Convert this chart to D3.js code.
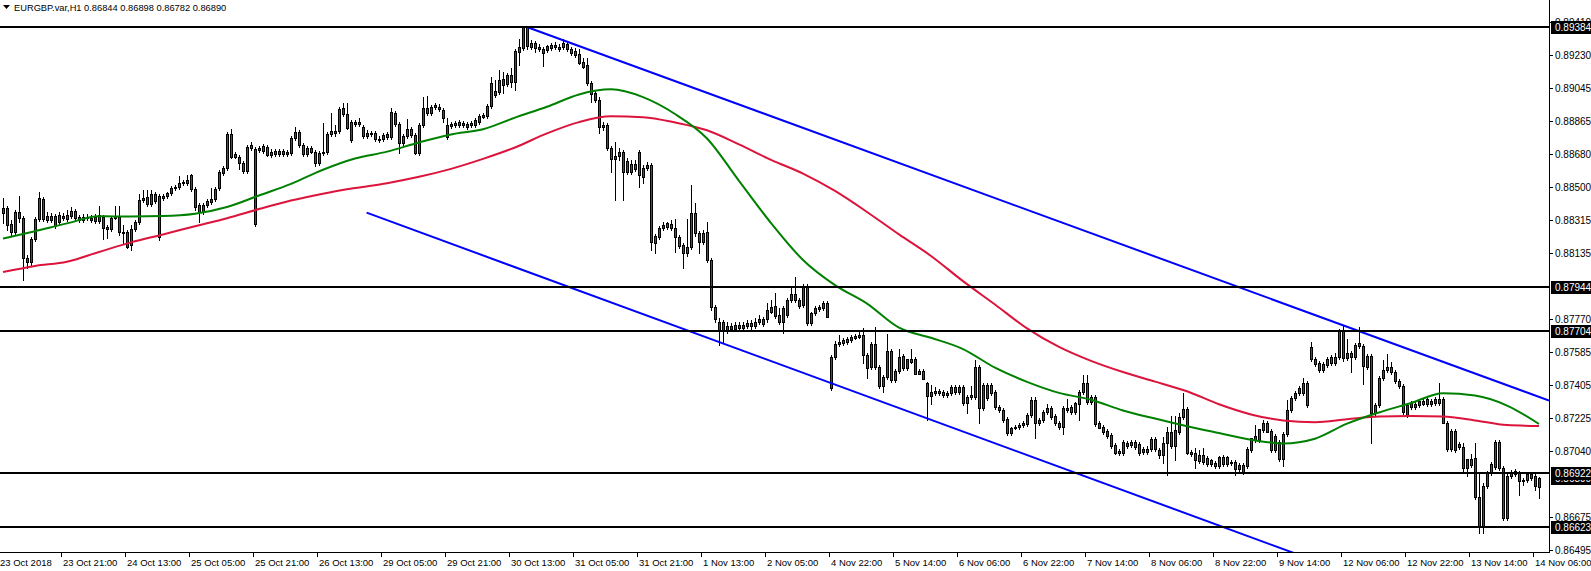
<!DOCTYPE html>
<html><head><meta charset="utf-8">
<script src="https://cdn.jsdelivr.net/npm/d3@7"></script>
<style>html,body{margin:0;padding:0;background:#fff;overflow:hidden}text{font-family:"Liberation Sans",Arial,sans-serif}</style>
</head><body><svg id="c" width="1591" height="571"></svg>
<script>
// prices in points (1 point = 0.00001)
const POINT = 0.00001;
const open = [
88355,88382,88294,88250,88360,88327,88106,88084,88211,88322,88432,88338,88316,88338,88305,88338,88322,88338,88366,88333,
88316,88333,88327,88333,88311,88333,88278,88266,88338,88333,88250,88250,88178,88266,88305,88427,88443,88404,88460,88222,
88438,88449,88465,88493,88499,88521,88537,88565,88488,88399,88360,88399,88415,88432,88493,88576,88604,88791,88681,88664,
88631,88587,88714,88294,88703,88697,88719,88675,88697,88681,88697,88681,88686,88769,88802,88730,88681,88714,88692,88631,
88686,88692,88791,88808,88808,88902,88902,88857,88846,88857,88830,88780,88791,88797,88764,88764,88775,
88775,88907,88846,88742,88780,88819,88786,88686,88841,88935,88907,88940,88940,88924,88775,88835,88841,88857,88841,88846,
88841,88841,88857,88885,88891,88946,89006,89023,89062,89067,89117,89078,89244,89266,89382,89271,89294,89271,89260,89255,
89266,89283,89260,89271,89288,89260,89249,89233,89189,89172,89073,89017,88979,88830,88841,88714,88653,88670,88692,88642,
88581,88626,88692,88554,88604,88620,88189,88222,88272,88278,88294,88272,88222,88178,88134,88167,88355,88244,88195,88250,
88095,87836,
87709,87753,87709,87731,87714,87736,87720,87731,87747,87731,87753,87742,87770,87808,87841,87792,87753,87792,87874,87908,
87874,87847,87952,87747,87803,87825,87830,87858,87389,87560,87631,87637,87643,87654,87665,87670,87681,87571,87504,87631,
87504,87400,87449,87593,87433,87482,87565,87499,87549,87549,87482,87482,87416,87344,87361,87372,87366,87350,87361,87366,
87394,87394,87306,87350,87339,87504,87278,87333,87405,87366,87284,87267,87217,87140,87168,87184,87184,87190,87239,87322,
87212,87212,87256,87278,87234,87195,87173,87267,87284,87256,87300,87366,87416,87339,87339,87195,87173,87151,87129,87074,
87030,87030,87068,87090,87090,87079,87035,87052,
87052,87107,87046,87019,87085,87068,87157,87146,87228,87273,87035,87030,87019,87019,87002,86969,86958,86958,87008,87008,
86980,86980,86963,86925,86958,87046,87101,87101,87157,87195,87151,87124,87090,86997,87135,87267,87333,87361,87361,87416,
87615,87549,87526,87488,87515,87526,87526,87560,87703,87554,87560,87560,87637,87620,87565,87565,87250,87295,87444,87488,
87504,87477,87427,87400,87239,87284,87300,87295,87317,87300,87300,87306,87328,87328,87195,87052,87151,87079,87063,86947,
86963,87002,86787,86627,86847,86919,86952,87090,86947,86671,86903,86914,86919,86875,86880,86914,86903,86844];
const high = [
88438,88393,88316,88371,88449,88338,88123,88222,88333,88471,88443,88360,88355,88349,88360,88355,88371,88388,88377,88344,
88349,88349,88344,88349,88393,88344,88289,88338,88393,88393,88289,88261,88289,88316,88460,88482,88482,88482,88471,88460,
88460,88471,88504,88510,88559,88537,88565,88570,88499,88410,88410,88432,88493,88499,88592,88615,88802,88819,88692,88675,
88642,88730,88747,88719,88725,88736,88730,88708,88708,88708,88708,88703,88780,88830,88813,88742,88725,88725,88703,88697,
88852,88802,88907,88841,88940,88962,88962,88868,88868,88880,88841,88813,88808,88808,88780,88797,88802,
88935,88918,88857,88791,88874,88830,88797,88852,88995,89001,88951,88962,88957,88935,88880,88857,88863,88868,88863,88857,
88863,88880,88902,88907,88957,89106,89089,89145,89133,89128,89156,89260,89316,89384,89384,89310,89305,89288,89271,89283,
89294,89299,89288,89316,89305,89271,89266,89260,89211,89211,89084,89034,88995,88857,88852,88725,88747,88714,88703,88659,
88648,88648,88703,88620,88637,88631,88239,88283,88305,88305,88316,88322,88233,88189,88322,88510,88410,88255,88261,88305,
88106,87847,
87775,87764,87753,87747,87753,87753,87753,87764,87764,87775,87792,87781,87858,87874,87913,87830,87841,87885,87952,88001,
87885,87963,87963,87808,87841,87847,87869,87869,87571,87648,87681,87665,87670,87681,87687,87703,87720,87582,87643,87725,
87515,87460,87687,87604,87493,87604,87576,87549,87604,87560,87493,87493,87422,87405,87394,87383,87378,87372,87405,87405,
87405,87405,87350,87400,87543,87515,87416,87416,87416,87378,87295,87278,87228,87173,87184,87195,87206,87250,87339,87339,
87223,87267,87300,87289,87245,87206,87289,87328,87295,87311,87378,87460,87460,87350,87350,87206,87184,87162,87140,87085,
87052,87101,87096,87101,87101,87090,87063,87068,
87118,87118,87057,87118,87173,87234,87234,87250,87361,87284,87046,87057,87046,87057,87013,86997,86986,87013,87019,87013,
86991,86991,86974,86974,87063,87112,87184,87162,87212,87206,87162,87135,87101,87146,87322,87344,87372,87400,87444,87427,
87643,87560,87538,87532,87560,87571,87582,87714,87731,87659,87593,87637,87725,87631,87576,87576,87306,87455,87543,87576,
87532,87488,87438,87411,87306,87317,87311,87317,87328,87339,87328,87339,87416,87339,87206,87162,87162,87090,87085,86997,
87024,87085,86919,86864,86930,86980,87101,87101,86958,86914,86936,86941,86930,86892,86914,86925,86914,86898];
const low = [
88300,88261,88228,88239,88305,87985,88051,88068,88200,88311,88311,88305,88305,88272,88294,88316,88311,88327,88316,88305,
88305,88316,88305,88300,88300,88211,88217,88255,88322,88233,88184,88162,88151,88255,88294,88415,88393,88393,88410,88206,
88427,88438,88454,88482,88488,88510,88510,88476,88371,88305,88349,88388,88404,88421,88482,88565,88592,88659,88659,88598,
88576,88576,88703,88283,88692,88686,88670,88664,88670,88670,88670,88670,88675,88758,88719,88670,88670,88686,88615,88620,
88675,88681,88780,88780,88797,88891,88819,88747,88835,88835,88769,88769,88780,88753,88747,88753,88764,
88764,88835,88686,88730,88769,88775,88681,88675,88830,88896,88896,88929,88918,88857,88764,88824,88830,88830,88830,88819,
88830,88830,88846,88880,88880,88935,88995,89012,89017,89056,89051,89034,89172,89255,89260,89260,89244,89249,89167,89244,
89255,89260,89249,89260,89249,89227,89216,89178,89156,89062,88968,88968,88797,88813,88703,88581,88427,88648,88427,88570,
88570,88587,88499,88521,88592,88151,88134,88211,88261,88266,88261,88140,88162,88051,88118,88156,88228,88134,88184,88084,
87819,87753,
87626,87643,87692,87703,87703,87709,87709,87720,87714,87720,87742,87731,87753,87803,87775,87742,87692,87781,87863,87863,
87830,87836,87736,87736,87792,87814,87819,87781,87378,87549,87620,87626,87631,87643,87659,87665,87526,87444,87493,87493,
87389,87366,87438,87422,87422,87471,87488,87488,87526,87466,87466,87438,87212,87300,87350,87350,87339,87339,87350,87355,
87355,87295,87250,87328,87328,87195,87267,87322,87350,87273,87256,87201,87129,87129,87162,87162,87173,87179,87228,87112,
87184,87201,87245,87217,87184,87162,87135,87256,87245,87245,87212,87355,87300,87300,87179,87168,87135,87112,87057,87024,
87019,87019,87057,87063,87052,87019,87024,87024,
87041,87041,87002,86974,86908,87057,86991,87135,87217,87024,87013,86947,86974,86969,86958,86958,86947,86947,86958,86958,
86963,86908,86930,86914,86947,87035,87090,87090,87146,87146,87035,87035,86986,86958,87124,87256,87322,87350,87350,87284,
87538,87510,87477,87477,87504,87515,87515,87549,87538,87543,87477,87549,87609,87411,87493,87085,87239,87284,87433,87477,
87466,87416,87389,87245,87228,87273,87273,87284,87295,87289,87289,87295,87295,87195,87041,87041,87035,87052,86919,86903,
86952,86776,86588,86588,86836,86908,86941,86936,86660,86660,86892,86903,86798,86853,86869,86880,86825,86782];
const close = [
88382,88289,88250,88360,88327,88106,88084,88211,88322,88438,88322,88316,88338,88283,88344,88327,88344,88366,88327,88316,
88333,88327,88316,88311,88344,88272,88266,88327,88327,88250,88244,88167,88266,88305,88427,88438,88404,88460,88421,88449,
88449,88465,88493,88499,88521,88526,88521,88488,88388,88360,88399,88421,88432,88488,88581,88604,88791,88664,88664,88631,
88587,88719,88730,88708,88714,88725,88675,88692,88681,88697,88681,88692,88769,88802,88730,88681,88714,88692,88631,88686,
88692,88791,88808,88797,88929,88935,88824,88758,88857,88846,88780,88797,88797,88764,88758,88786,88791,
88913,88846,88742,88780,88819,88786,88686,88841,88935,88907,88940,88951,88929,88880,88841,88846,88852,88841,88852,88830,
88852,88868,88891,88896,88946,89073,89029,89089,89095,89117,89078,89249,89271,89382,89277,89294,89266,89260,89238,89277,
89283,89271,89271,89294,89260,89238,89227,89183,89161,89073,89012,88979,88830,88841,88714,88653,88670,88692,88581,88581,
88626,88598,88565,88604,88620,88195,88228,88272,88289,88300,88272,88222,88173,88134,88167,88355,88244,88195,88244,88095,
87836,87770,
87753,87709,87731,87714,87736,87720,87736,87747,87731,87753,87770,87770,87819,87836,87786,87753,87830,87874,87908,87874,
87841,87952,87747,87803,87830,87836,87858,87781,87560,87631,87643,87654,87659,87670,87676,87681,87571,87499,87631,87504,
87400,87449,87593,87433,87482,87560,87499,87549,87532,87466,87466,87438,87344,87366,87372,87361,87350,87361,87394,87394,
87366,87306,87339,87339,87504,87278,87405,87405,87361,87284,87267,87212,87140,87168,87173,87173,87195,87239,87322,87195,
87195,87256,87278,87228,87195,87173,87278,87278,87256,87306,87366,87416,87311,87311,87190,87168,87146,87124,87068,87030,
87041,87090,87085,87074,87063,87030,87052,87035,
87107,87052,87019,87085,87146,87146,87068,87228,87273,87030,87024,86991,86986,86980,86969,86991,86974,87008,86969,86969,
86974,86941,86941,86963,87052,87112,87124,87162,87195,87146,87046,87046,86997,87135,87267,87333,87361,87389,87416,87295,
87549,87521,87488,87521,87549,87560,87560,87703,87554,87582,87582,87626,87620,87510,87504,87250,87295,87444,87488,87504,
87477,87427,87400,87256,87295,87306,87284,87317,87300,87328,87317,87328,87306,87195,87052,87151,87046,87063,86947,86997,
86997,86787,86627,86847,86919,86969,87090,86947,86671,86903,86925,86930,86875,86880,86914,86892,86847,86890];

// moving averages sampled every 8 bars (bar 0..384)
const maStep = 8;
const maGreen = [
0.88214,0.88255,0.88298,0.88337,0.88336,0.88338,0.88351,0.88388,0.88452,0.88516,
0.88594,0.88656,0.88694,0.88745,0.88789,0.88818,0.88882,0.88942,0.89010,0.89038,
0.88995,0.88902,0.88767,0.88533,0.88300,0.88096,0.87957,0.87855,0.87722,0.87666,
0.87604,0.87501,0.87423,0.87362,0.87324,0.87265,0.87220,0.87178,0.87140,0.87103,
0.87083,0.87109,0.87192,0.87254,0.87306,0.87360,0.87347,0.87292,0.87190];
const maRed = [
0.88029,0.88063,0.88086,0.88140,0.88193,0.88237,0.88282,0.88326,0.88377,0.88424,
0.88462,0.88493,0.88520,0.88555,0.88599,0.88654,0.88717,0.88795,0.88857,0.88889,
0.88884,0.88855,0.88812,0.88734,0.88649,0.88573,0.88477,0.88361,0.88237,0.88118,
0.87979,0.87850,0.87718,0.87616,0.87539,0.87477,0.87424,0.87371,0.87299,0.87243,
0.87210,0.87200,0.87216,0.87231,0.87234,0.87232,0.87210,0.87184,0.87179];

// trend line anchors: [bar index, price]
const trendUpper = [[130.8, 0.89384], [300, 0.88018]];
const trendLower = [[90.9, 0.88357], [300, 0.86662]];
const levels = [0.89384, 0.87944, 0.87704, 0.86922, 0.86623];
const lastPrice = 0.86890;
const priceTicks = [0.89410,0.89230,0.89045,0.88865,0.88680,0.88500,0.88315,0.88135,0.87770,0.87585,0.87405,0.87225,0.87040,0.86675,0.86495];
const timeLabels = ["23 Oct 2018","23 Oct 21:00","24 Oct 13:00","25 Oct 05:00","25 Oct 21:00","26 Oct 13:00","29 Oct 05:00","29 Oct 21:00","30 Oct 13:00","31 Oct 05:00","31 Oct 21:00","1 Nov 13:00","2 Nov 05:00","4 Nov 22:00","5 Nov 14:00","6 Nov 06:00","6 Nov 22:00","7 Nov 14:00","8 Nov 06:00","8 Nov 22:00","9 Nov 14:00","12 Nov 06:00","12 Nov 22:00","13 Nov 14:00","14 Nov 06:00"];
const timeLabelEvery = 16;
const title = "EURGBP.var,H1  0.86844 0.86898 0.86782 0.86890";

const W = 1591, H = 571, plotRight = 1549, plotBottom = 552;
const svg = d3.select('#c');
svg.append('rect').attr('width', W).attr('height', H).attr('fill', '#fff');
const x = d3.scaleLinear().domain([0, 384]).range([3, 1539]);
const y = d3.scaleLinear().domain([0.89384, 0.86623]).range([26.7, 526.7]);
svg.append('defs').append('clipPath').attr('id', 'plot').append('rect')
  .attr('x', 0).attr('y', 0).attr('width', plotRight).attr('height', plotBottom);
const g = svg.append('g').attr('clip-path', 'url(#plot)');

const bars = d3.range(open.length).map(i => ({i, o: open[i]*POINT, h: high[i]*POINT, l: low[i]*POINT, c: close[i]*POINT}));
g.append('g').selectAll('line').data(bars).join('line')
  .attr('x1', d => Math.round(x(d.i)) + 0.5).attr('x2', d => Math.round(x(d.i)) + 0.5)
  .attr('y1', d => Math.round(y(d.h))).attr('y2', d => Math.round(y(d.l)) + 1)
  .attr('stroke', '#000').attr('stroke-width', 1).attr('shape-rendering', 'crispEdges');
g.append('g').selectAll('rect').data(bars).join('rect')
  .attr('x', d => Math.round(x(d.i)) - 0.5).attr('width', 2)
  .attr('y', d => Math.round(y(Math.max(d.o, d.c))) + 0.5)
  .attr('height', d => Math.max(1, Math.round(y(Math.min(d.o, d.c))) - Math.round(y(Math.max(d.o, d.c)))))
  .attr('fill', d => d.c >= d.o ? '#008000' : '#b22222')
  .attr('stroke', '#000').attr('stroke-width', 1);

const maLine = d3.line().x((d, k) => x(k * maStep)).y(d => y(d)).curve(d3.curveMonotoneX);
g.append('path').attr('d', maLine(maRed)).attr('fill', 'none').attr('stroke', '#dc143c').attr('stroke-width', 2);
g.append('path').attr('d', maLine(maGreen)).attr('fill', 'none').attr('stroke', '#008000').attr('stroke-width', 2);

function ray(a) {
  const [i0, p0] = a[0], [i1, p1] = a[1];
  const x0 = x(i0), y0 = y(p0), x1 = x(i1), y1 = y(p1);
  const xe = plotRight, ye = y0 + (y1 - y0) * (xe - x0) / (x1 - x0);
  return [x0, y0, xe, ye];
}
[trendUpper, trendLower].forEach(t => {
  const [x0, y0, x1, y1] = ray(t);
  g.append('line').attr('x1', x0).attr('y1', y0).attr('x2', x1).attr('y2', y1)
    .attr('stroke', '#0000ff').attr('stroke-width', 2);
});
g.selectAll('.lvl').data(levels).join('line').attr('class', 'lvl')
  .attr('x1', 0).attr('x2', plotRight).attr('y1', d => Math.round(y(d))).attr('y2', d => Math.round(y(d)))
  .attr('stroke', '#000').attr('stroke-width', 2).attr('shape-rendering', 'crispEdges');

// axes frame
svg.append('line').attr('x1', plotRight + 0.5).attr('x2', plotRight + 0.5).attr('y1', 0).attr('y2', plotBottom + 1)
  .attr('stroke', '#000').attr('shape-rendering', 'crispEdges');
svg.append('line').attr('x1', 0).attr('x2', plotRight + 1).attr('y1', plotBottom + 0.5).attr('y2', plotBottom + 0.5)
  .attr('stroke', '#000').attr('shape-rendering', 'crispEdges');

// price ticks
const pt = svg.append('g');
priceTicks.forEach(p => {
  const yy = Math.round(y(p));
  pt.append('line').attr('x1', plotRight).attr('x2', plotRight + 4).attr('y1', yy + 0.5).attr('y2', yy + 0.5)
    .attr('stroke', '#000').attr('shape-rendering', 'crispEdges');
  pt.append('text').attr('x', plotRight + 6).attr('y', yy).attr('dy', '0.35em')
    .attr('font-size', 10).attr('fill', '#000').text(p.toFixed(5));
});
function priceBox(p) {
  const yy = Math.round(y(p));
  pt.append('rect').attr('x', plotRight + 2).attr('y', yy - 6).attr('width', W - plotRight - 2).attr('height', 13).attr('fill', '#000');
  pt.append('text').attr('x', plotRight + 6).attr('y', yy).attr('dy', '0.35em')
    .attr('font-size', 10).attr('fill', '#fff').text(p.toFixed(5));
}
priceBox(lastPrice);
levels.forEach(priceBox);

// time axis
const tt = svg.append('g');
timeLabels.forEach((t, k) => {
  const xx = Math.round(x(k * timeLabelEvery)) - 6;
  tt.append('line').attr('x1', xx + 0.5).attr('x2', xx + 0.5).attr('y1', plotBottom).attr('y2', plotBottom + 5)
    .attr('stroke', '#000').attr('shape-rendering', 'crispEdges');
  tt.append('text').attr('x', Math.max(0, xx + 2)).attr('y', plotBottom + 14).attr('font-size', 9.5).attr('fill', '#000').text(t);
});

// title
svg.append('path').attr('d', 'M3,5 L10,5 L6.5,9 Z').attr('fill', '#000');
svg.append('text').attr('x', 14).attr('y', 11).attr('font-size', 9.3).attr('fill', '#000').text(title);
</script></body></html>
